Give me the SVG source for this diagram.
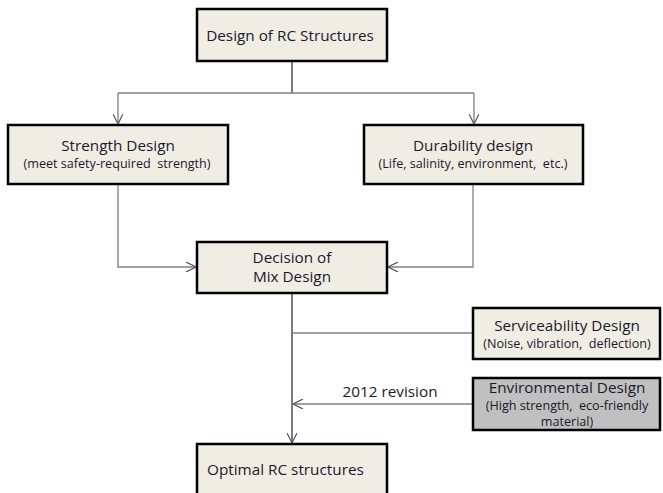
<svg xmlns="http://www.w3.org/2000/svg" width="663" height="493" viewBox="0 0 663 493">
<defs>
<marker id="arr" viewBox="0 0 10 10" refX="10" refY="5" markerWidth="10" markerHeight="10" markerUnits="userSpaceOnUse" orient="auto">
<path d="M0,0 L10,5 L0,10" fill="none" stroke="#555" stroke-width="1.2"/>
</marker>
<style>
.box{fill:#F0EDE5;stroke:#000;stroke-width:2.5}
.gbox{fill:#C0C0C0;stroke:#000;stroke-width:2.5}
.t{font-family:"Open Sans","Noto Sans",sans-serif;fill:#1a1a2a;text-anchor:middle;white-space:pre}
.big{font-size:15.3px}
.sm{font-size:12.6px}
.ln{fill:none;stroke:#808080;stroke-width:1.3}
.dk{fill:none;stroke:#333;stroke-width:1.3}
</style>
</defs>
<rect width="663" height="493" fill="#fff"/>
<g id="connectors">
<path class="dk" d="M292,61 V93"/>
<path class="ln" d="M118,93 H474"/>
<path class="ln" d="M118,93 V124" marker-end="url(#arr)"/>
<path class="ln" d="M474,93 V124" marker-end="url(#arr)"/>
<path class="ln" d="M118,184 V267 H196" marker-end="url(#arr)"/>
<path class="ln" d="M473,184 V267 H388" marker-end="url(#arr)"/>
<path class="dk" d="M292,293 V443" marker-end="url(#arr)"/>
<path class="ln" d="M292,333 H473"/>
<path class="ln" d="M473,404 H293" marker-end="url(#arr)"/>
<text class="t big" x="390" y="397">2012 revision</text>
</g>
<g id="design">
<rect class="box" x="197" y="9" width="190" height="52"/>
<text class="t big" x="290" y="41">Design of RC Structures</text>
</g>
<g id="strength">
<rect class="box" x="8" y="125" width="220" height="59"/>
<text class="t big" x="118" y="151">Strength Design</text>
<text class="t sm" x="117" y="168" xml:space="preserve">(meet safety-required  strength)</text>
</g>
<g id="durability">
<rect class="box" x="364" y="125" width="219" height="59"/>
<text class="t big" x="473" y="151">Durability design</text>
<text class="t sm" x="473" y="168" xml:space="preserve">(Life, salinity, environment,  etc.)</text>
</g>
<g id="decision">
<rect class="box" x="197" y="242" width="190" height="51"/>
<text class="t big" x="292" y="263">Decision of</text>
<text class="t big" x="292" y="282">Mix Design</text>
</g>
<g id="serviceability">
<rect class="box" x="473" y="308" width="187" height="51"/>
<text class="t big" x="567" y="331">Serviceability Design</text>
<text class="t sm" x="567" y="348" xml:space="preserve">(Noise, vibration,  deflection)</text>
</g>
<g id="environmental">
<rect class="gbox" x="473" y="378" width="187" height="52"/>
<text class="t big" x="567" y="393">Environmental Design</text>
<text class="t sm" x="567" y="410" xml:space="preserve">(High strength,  eco-friendly</text>
<text class="t sm" x="567" y="426">material)</text>
</g>
<g id="optimal">
<rect class="box" x="197" y="444" width="190" height="60"/>
<text class="t big" x="207" y="475" style="text-anchor:start">Optimal RC structures</text>
</g>
</svg>
